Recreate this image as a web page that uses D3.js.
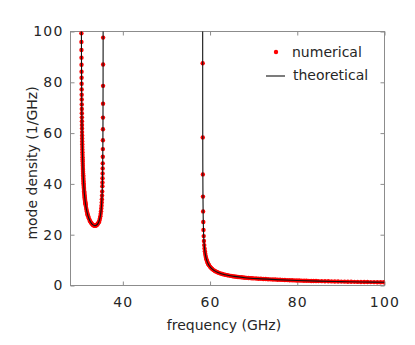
<!DOCTYPE html>
<html>
<head>
<meta charset="utf-8">
<script src="https://cdn.jsdelivr.net/npm/d3@7"></script>
<style>
  body { margin: 0; background: #fff; }
  text { font-family: "DejaVu Sans", sans-serif; fill: #262626; }
</style>
</head>
<body>
<div id="chart"></div>
<script>
// theoretical curve, first band (GHz, 1/GHz)
const theoryFreq1 = [30.47, 30.50, 30.53, 30.56, 30.60, 30.65, 30.70, 30.78, 30.88, 31.00, 31.15, 31.35, 31.60, 31.90,
  32.20, 32.50, 32.80, 33.10, 33.40, 33.70, 34.00, 34.25, 34.50, 34.70, 34.88, 35.02, 35.14, 35.24, 35.32, 35.38,
  35.42, 35.45, 35.47, 35.48, 35.49];
const theoryDens1 = [123.9, 99.1, 85.3, 76.2, 67.9, 60.7, 55.6, 49.7, 44.65, 40.46, 36.77, 33.37, 30.47, 28.10,
  26.47, 25.30, 24.48, 23.94, 23.63, 23.57, 23.81, 24.27, 25.12, 26.23, 27.79, 29.68, 32.2, 35.6, 40.25, 46.5,
  54.3, 65.5, 81.1, 96.7, 131.8];

// theoretical curve, second band
const theoryFreq2 = [58.303, 58.31, 58.32, 58.34, 58.37, 58.42, 58.5, 58.6, 58.75, 59.0, 59.3, 59.7, 60.2, 61.0,
  62.0, 63.5, 65.5, 68, 71, 75, 80, 85, 90, 95, 100];
const theoryDens2 = [175.3, 96, 67.9, 48, 36.3, 27.7, 21.5, 17.5, 14.3, 11.5, 9.6, 8.11, 6.96, 5.84,
  4.99, 4.21, 3.58, 3.08, 2.69, 2.33, 1.95, 1.72, 1.53, 1.39, 1.25];

// numerical points, first band
const numFreq1 = [30.500, 30.506, 30.512, 30.519, 30.526, 30.533, 30.540, 30.548, 30.556, 30.565, 30.573, 30.582,
  30.591, 30.600, 30.610, 30.620, 30.630, 30.641, 30.653, 30.664, 30.675, 30.687, 30.699, 30.712, 30.724, 30.738,
  30.752, 30.767, 30.781, 30.794, 30.811, 30.826, 30.842, 30.857, 30.875, 30.893, 30.910, 30.926, 30.946, 30.964,
  30.983, 31.003, 31.025, 31.043, 31.065, 31.087, 31.109, 31.132, 31.156, 31.181, 31.206, 31.230, 31.257, 31.285,
  31.310, 31.337, 31.362, 31.396, 31.426, 31.451, 31.52, 31.60, 31.675, 31.75, 31.825, 31.90, 31.975, 32.05,
  32.2, 32.35, 32.5, 32.65, 32.8, 32.95, 33.1, 33.25, 33.4, 33.55, 33.7, 33.85, 34.0, 34.12, 34.25, 34.38,
  34.503, 34.632, 34.746, 34.845, 34.925, 34.996, 35.059, 35.111, 35.16, 35.200, 35.236, 35.269, 35.305, 35.325,
  35.343, 35.361, 35.377, 35.390, 35.404, 35.418, 35.430, 35.442, 35.451, 35.460, 35.468, 35.475, 35.480];
const numDens1 = [99.3, 95.9, 92.7, 89.7, 86.9, 84.2, 81.8, 79.4, 77.2, 75.1, 73.2, 71.3,
  69.5, 67.8, 66.2, 64.7, 63.2, 61.8, 60.4, 59.1, 57.9, 56.7, 55.6, 54.5, 53.5, 52.5,
  51.5, 50.5, 49.6, 48.8, 47.9, 47.1, 46.3, 45.6, 44.8, 44.1, 43.4, 42.8, 42.1, 41.5,
  40.9, 40.3, 39.7, 39.2, 38.6, 38.1, 37.6, 37.1, 36.6, 36.1, 35.6, 35.2, 34.75, 34.3,
  33.9, 33.5, 33.1, 32.7, 32.3, 32.0, 31.29, 30.47, 29.79, 29.18, 28.62, 28.10, 27.64, 27.22,
  26.47, 25.84, 25.30, 24.86, 24.48, 24.17, 23.94, 23.75, 23.63, 23.57, 23.57, 23.65, 23.81, 24.0, 24.27, 24.66,
  24.9, 25.6, 26.4, 27.3, 28.2, 29.2, 30.3, 31.4, 32.7, 34.0, 35.4, 37.0, 39.1, 40.6,
  42.2, 44.1, 46.1, 48.1, 50.7, 53.7, 57.2, 61.5, 66.1, 71.6, 78.6, 87.0, 97.6];

// numerical points, second band
const numFreq2 = [58.312, 58.327, 58.348, 58.375, 58.408, 58.448, 58.493, 58.544, 58.601, 58.664, 58.734, 58.809,
  58.890, 58.977, 59.070, 59.170, 59.276, 59.386, 59.504, 59.628, 59.75, 60.0, 60.25, 60.5, 60.8, 61.1, 61.4, 61.7,
  62.0, 62.4, 62.8, 63.2, 63.6, 64.0, 64.4, 64.8, 65.2, 65.6, 66.0, 66.4, 66.8, 67.2, 67.6, 68.0, 68.4, 68.8,
  69.2, 69.6, 70.0, 70.55, 71.1, 71.65, 72.2, 72.75, 73.3, 73.85, 74.4, 74.95, 75.5, 76.05, 76.6, 77.15, 77.7,
  78.25, 78.8, 79.35, 79.9, 80.45, 81.0, 81.55, 82.1, 82.65, 83.2, 83.75, 84.3, 84.85, 85.6, 86.35, 87.1, 87.85,
  88.6, 89.35, 90.1, 90.85, 91.6, 92.35, 93.1, 93.85, 94.6, 95.35, 96.1, 96.85, 97.6, 98.35, 99.1, 99.85];
const numDens2 = [87.5, 58.3, 43.75, 35.0, 29.17, 25.0, 21.88, 19.44, 17.5, 15.91, 14.58, 13.46,
  12.5, 11.67, 10.94, 10.29, 9.72, 9.21, 8.75, 8.33, 7.97, 7.36, 6.87, 6.47, 6.07, 5.74, 5.45, 5.21,
  4.99, 4.74, 4.53, 4.34, 4.17, 4.02, 3.89, 3.77, 3.65, 3.55, 3.46, 3.37, 3.29, 3.22, 3.15, 3.08, 3.02, 2.96,
  2.91, 2.86, 2.81, 2.74, 2.68, 2.63, 2.57, 2.53, 2.48, 2.43, 2.39, 2.35, 2.28, 2.24, 2.20, 2.16, 2.12,
  2.08, 2.04, 2.00, 1.97, 1.94, 1.91, 1.88, 1.85, 1.83, 1.80, 1.78, 1.76, 1.74, 1.71, 1.68, 1.65, 1.62,
  1.59, 1.56, 1.53, 1.51, 1.49, 1.46, 1.44, 1.42, 1.40, 1.38, 1.36, 1.34, 1.32, 1.30, 1.28, 1.26];

const xTicks = [40, 60, 80, 100];
const yTicks = [0, 20, 40, 60, 80, 100];
const legendLabels = ["numerical", "theoretical"];

const width = 415, height = 345;
const plotLeft = 70.5, plotRight = 384.5, plotTop = 31.5, plotBottom = 285.5;
const axisColor = "#8c8c8c";

const svg = d3.select("#chart")
  .append("svg")
  .attr("width", width)
  .attr("height", height);

const xScale = d3.scaleLinear().domain([28, 100]).range([plotLeft, plotRight]);
const yScale = d3.scaleLinear().domain([0, 100]).range([plotBottom, plotTop]);

svg.append("clipPath").attr("id", "plotClip")
  .append("rect")
  .attr("x", plotLeft).attr("y", plotTop)
  .attr("width", plotRight - plotLeft).attr("height", plotBottom - plotTop);

// axes with inward ticks on all four sides
function styleAxis(g) {
  g.select(".domain").remove();
  g.selectAll(".tick line").attr("stroke", axisColor);
  g.selectAll(".tick text").attr("font-size", 14).attr("fill", "#262626")
    .attr("letter-spacing", 1.2)
    .style("font-family", "'DejaVu Sans', sans-serif");
}

svg.append("g")
  .attr("transform", `translate(0,${plotBottom})`)
  .call(d3.axisBottom(xScale).tickValues(xTicks).tickSize(-4).tickPadding(12).tickFormat(d3.format("d")))
  .call(styleAxis);

svg.append("g")
  .attr("transform", `translate(0,${plotTop})`)
  .call(d3.axisTop(xScale).tickValues(xTicks).tickSize(-4).tickFormat(""))
  .call(styleAxis);

svg.append("g")
  .attr("transform", `translate(${plotLeft},0)`)
  .call(d3.axisLeft(yScale).tickValues(yTicks).tickSize(-4).tickPadding(7).tickFormat(d3.format("d")))
  .call(styleAxis);

svg.append("g")
  .attr("transform", `translate(${plotRight},0)`)
  .call(d3.axisRight(yScale).tickValues(yTicks).tickSize(-4).tickFormat(""))
  .call(styleAxis);

svg.append("rect")
  .attr("x", plotLeft).attr("y", plotTop)
  .attr("width", plotRight - plotLeft).attr("height", plotBottom - plotTop)
  .attr("fill", "none")
  .attr("stroke", axisColor)
  .attr("stroke-width", 1);

const plot = svg.append("g").attr("clip-path", "url(#plotClip)");

// numerical points
const numPoints = numFreq1.map((f, i) => ({ x: f, y: numDens1[i] }))
  .concat(numFreq2.map((f, i) => ({ x: f, y: numDens2[i] })));

plot.selectAll("circle.num")
  .data(numPoints)
  .enter().append("circle")
  .attr("class", "num")
  .attr("cx", d => xScale(d.x))
  .attr("cy", d => yScale(d.y))
  .attr("r", 2.2)
  .attr("fill", "#ff0000");

// theoretical curves
const lineFunction = d3.line()
  .x(d => xScale(d.x))
  .y(d => yScale(d.y))
  .curve(d3.curveMonotoneX);

const band1 = theoryFreq1.map((f, i) => ({ x: f, y: theoryDens1[i] }));
const band2 = theoryFreq2.map((f, i) => ({ x: f, y: theoryDens2[i] }));

[band1, band2].forEach(band => {
  plot.append("path")
    .datum(band)
    .attr("d", lineFunction)
    .attr("fill", "none")
    .attr("stroke", "#111")
    .attr("stroke-width", 1.1);
});

// legend
svg.append("circle")
  .attr("cx", 276).attr("cy", 52).attr("r", 2.2)
  .attr("fill", "#ff0000");
svg.append("text")
  .attr("x", 292).attr("y", 57)
  .attr("font-size", 14)
  .text(legendLabels[0]);

svg.append("line")
  .attr("x1", 266).attr("x2", 285)
  .attr("y1", 76).attr("y2", 76)
  .attr("stroke", "#111").attr("stroke-width", 1.1);
svg.append("text")
  .attr("x", 293).attr("y", 80)
  .attr("font-size", 14)
  .text(legendLabels[1]);

// axis titles
svg.append("text")
  .attr("x", 224).attr("y", 330)
  .attr("text-anchor", "middle")
  .attr("font-size", 14)
  .text("frequency (GHz)");

svg.append("text")
  .attr("transform", "translate(37,163) rotate(-90)")
  .attr("text-anchor", "middle")
  .attr("font-size", 14)
  .text("mode density (1/GHz)");
</script>
</body>
</html>
